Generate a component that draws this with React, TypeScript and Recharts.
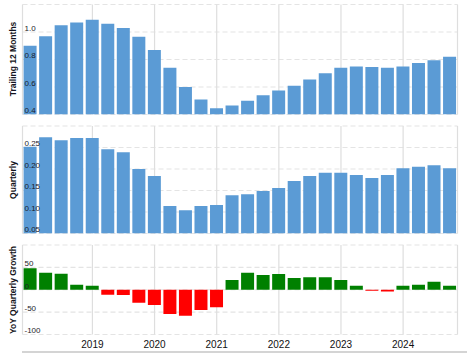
import { BarChart, Bar, XAxis, YAxis, CartesianGrid, Cell } from "recharts";

const quarters = [
  "2017-12", "2018-03", "2018-06", "2018-09",
  "2018-12", "2019-03", "2019-06", "2019-09",
  "2019-12", "2020-03", "2020-06", "2020-09",
  "2020-12", "2021-03", "2021-06", "2021-09",
  "2021-12", "2022-03", "2022-06", "2022-09",
  "2022-12", "2023-03", "2023-06", "2023-09",
  "2023-12", "2024-03", "2024-06", "2024-09",
];

const trailing12 = [
  0.9, 0.97, 1.05, 1.07, 1.09, 1.06, 1.03, 0.965, 0.87, 0.74, 0.6, 0.51, 0.445, 0.465,
  0.5, 0.54, 0.575, 0.61, 0.655, 0.7, 0.74, 0.75, 0.745, 0.74, 0.75, 0.775, 0.795, 0.82,
];

const quarterly = [
  0.252, 0.274, 0.267, 0.272, 0.272, 0.246, 0.239, 0.2, 0.184, 0.114, 0.104, 0.114, 0.116, 0.139,
  0.141, 0.149, 0.156, 0.172, 0.184, 0.191, 0.191, 0.186, 0.179, 0.186, 0.202, 0.205, 0.209, 0.202,
];

const yoyGrowth = [
  48, 38, 36, 11, 9, -11, -12, -29, -34, -54, -58, -45, -39, 22,
  38, 33, 35, 26, 28, 28, 22, 9, -2, -4, 9, 11, 18, 9,
];

// year gridlines sit on the Q4 bars
const yearTicks = ["2018-12", "2019-12", "2020-12", "2021-12", "2022-12", "2023-12"];
const yearLabels = ["2019", "2020", "2021", "2022", "2023", "2024"];

const ttmTicks = [0.4, 0.6, 0.8, 1.0, 1.2];
const quarterlyTicks = [0.05, 0.1, 0.15, 0.2, 0.25, 0.3];
const growthTicks = [-100, -50, 0, 50, 100];

const data = quarters.map((q, i) => ({
  q,
  ttm: trailing12[i],
  quarterly: quarterly[i],
  growth: yoyGrowth[i],
}));

const BLUE = "#5b9bd5";
const FONT = "'Liberation Sans', Arial, sans-serif";
const tickStyle = { fontSize: 8, fill: "#1c1c2a", fontFamily: FONT, dy: -4 };

const yearFormat = (v: string) => yearLabels[yearTicks.indexOf(v)] ?? "";

function Grids() {
  return (
    <>
      <CartesianGrid vertical={false} stroke="#e4e4e4" strokeDasharray="5 3" strokeWidth={1.2} />
      <CartesianGrid horizontal={false} stroke="#dedede" strokeWidth={1.2} />
    </>
  );
}

function Title({ text, y }: { text: string; y: number }) {
  return (
    <div
      style={{
        position: "absolute",
        left: 12.5,
        top: y,
        transform: "translate(-50%, -50%) rotate(-90deg)",
        whiteSpace: "nowrap",
        fontFamily: FONT,
        fontWeight: "bold",
        fontSize: 8.5,
        color: "#141420",
      }}
    >
      {text}
    </div>
  );
}

export default function App() {
  const hideTop = (top: number) => (v: number) => (v === top ? "" : String(v));

  return (
    <div
      style={{
        position: "absolute",
        left: 0,
        top: 0,
        width: 471,
        height: 353,
        background: "#fff",
        fontFamily: FONT,
      }}
    >
      <div style={{ position: "absolute", left: 0, top: 0 }}>
        <BarChart
          width={471}
          height={116}
          data={data}
          barCategoryGap="7%"
          margin={{ top: 4.5, right: 13.5, bottom: 1.5, left: 22.5 }}
        >
          <Grids />
          <XAxis dataKey="q" hide ticks={yearTicks} interval={0} />
          <Bar dataKey="ttm" fill={BLUE} isAnimationActive={false} />
          <YAxis
            mirror
            domain={[0.4, 1.2]}
            ticks={ttmTicks}
            interval={0}
            allowDataOverflow
            axisLine={false}
            tickLine={false}
            tickSize={0}
            tickMargin={2}
            tick={tickStyle}
            tickFormatter={(v: number) => (v === 1.2 ? "" : v.toFixed(1))}
          />
        </BarChart>
      </div>

      <div style={{ position: "absolute", left: 0, top: 120 }}>
        <BarChart
          width={471}
          height={116}
          data={data}
          barCategoryGap="7%"
          margin={{ top: 6, right: 13.5, bottom: 2.5, left: 22.5 }}
        >
          <Grids />
          <XAxis dataKey="q" hide ticks={yearTicks} interval={0} />
          <Bar dataKey="quarterly" fill={BLUE} isAnimationActive={false} />
          <YAxis
            mirror
            domain={[0.05, 0.3]}
            ticks={quarterlyTicks}
            interval={0}
            allowDataOverflow
            axisLine={false}
            tickLine={false}
            tickSize={0}
            tickMargin={2}
            tick={tickStyle}
            tickFormatter={(v: number) => (v === 0.3 ? "" : v.toFixed(2))}
          />
        </BarChart>
      </div>

      <div style={{ position: "absolute", left: 0, top: 240 }}>
        <BarChart
          width={471}
          height={113}
          data={data}
          barCategoryGap="7%"
          margin={{ top: 5, right: 13.5, bottom: 0, left: 22.5 }}
        >
          <Grids />
          <XAxis
            dataKey="q"
            ticks={yearTicks}
            interval={0}
            height={18.5}
            axisLine={false}
            tickLine={false}
            tickSize={0}
            tickMargin={6}
            tickFormatter={yearFormat}
            tick={{ fontSize: 10, fill: "#111", fontFamily: FONT }}
          />
          <Bar dataKey="growth" isAnimationActive={false}>
            {data.map((d) => (
              <Cell key={d.q} fill={d.growth >= 0 ? "#008000" : "#ff0000"} />
            ))}
          </Bar>
          <YAxis
            mirror
            domain={[-100, 100]}
            ticks={growthTicks}
            interval={0}
            allowDataOverflow
            axisLine={false}
            tickLine={false}
            tickSize={0}
            tickMargin={2}
            tick={tickStyle}
            tickFormatter={hideTop(100)}
          />
        </BarChart>
      </div>

      <div
        style={{
          position: "absolute",
          left: 22,
          top: 351,
          width: 445,
          height: 1.5,
          background: "#d4d4d4",
        }}
      />

      <Title text="Trailing 12 Months" y={59} />
      <Title text="Quarterly" y={180} />
      <Title text="YoY Quarterly Growth" y={290} />
    </div>
  );
}
